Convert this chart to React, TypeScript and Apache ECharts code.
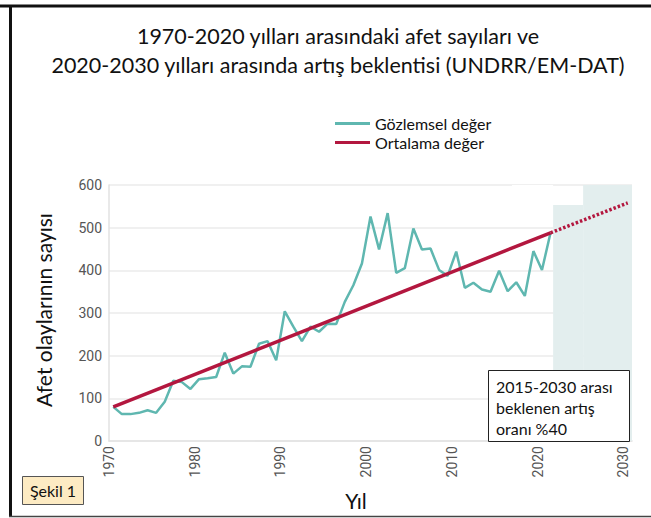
import React, { useEffect, useRef } from "react";
import * as echarts from "echarts";

// ---- data ----
const firstYear = 1970;
const lastAxisYear = 2030;
const years: string[] = Array.from({ length: lastAxisYear - firstYear + 1 }, (_, i) => String(firstYear + i));

// observed disaster counts 1970-2021
const observed: number[] = [
  80, 63, 63, 66, 72, 66, 92, 141, 138, 122,
  145, 147, 150, 207, 158, 175, 174, 228, 234, 189,
  304, 268, 234, 268, 256, 275, 274, 326, 365, 416,
  526, 449, 534, 394, 405, 498, 449, 451, 401, 387,
  444, 359, 371, 355, 350, 399, 351, 372, 340, 445,
  401, 488,
];

// average (trend) line and its projection
const trendYears: string[] = ["1970", "2021"];
const trendValues: number[] = [80, 488];
const projectionYears: string[] = ["2021", "2030"];
const projectionValues: number[] = [488, 558];

// expected-increase shaded bands (year from, year to, top value)
const shadeFrom: number[] = [2021.8, 2025.3];
const shadeTo: number[] = [2025.3, 2031];
const shadeTop: number[] = [553, 600];

const xTicks: number[] = [1970, 1980, 1990, 2000, 2010, 2020, 2030];
const yMax = 600;
const yStep = 100;

const titleLines: string[] = [
  "1970-2020 yılları arasındaki afet sayıları ve",
  "2020-2030 yılları arasında artış beklentisi (UNDRR/EM-DAT)",
];
const legendNames: string[] = ["Gözlemsel değer", "Ortalama değer"];
const noteLines: string[] = ["2015-2030 arası", "beklenen artış", "oranı %40"];

const TEAL = "#5fb7b0";
const RED = "#b3173f";
const FONT = "Lato, 'Open Sans', sans-serif";

export default function App() {
  const ref = useRef<HTMLDivElement>(null);
  useEffect(() => {
    if (!ref.current) return;
    const chart = echarts.init(ref.current, undefined, { renderer: "svg" });
    const observedData = observed.map((v, i) => [years[i], v]);
    const trendData = trendYears.map((y, i) => [y, trendValues[i]]);
    const projData = projectionYears.map((y, i) => [y, projectionValues[i]]);
    const shadeAreas = shadeFrom.map((f, i) => [
      { xAxis: f, yAxis: 0 },
      { xAxis: shadeTo[i], yAxis: shadeTop[i] },
    ]);

    chart.setOption({
      animation: false,
      backgroundColor: "#ffffff",
      grid: { left: 109, right: 19, top: 185, height: 256, containLabel: false },
      legend: {
        data: legendNames.map((n) => ({ name: n, icon: "rect" })),
        orient: "vertical",
        left: 330,
        top: 110,
        itemWidth: 35,
        itemHeight: 3,
        itemGap: 2,
        textStyle: { fontFamily: FONT, fontSize: 16, lineHeight: 17, color: "#111" },
        selectedMode: false,
      },
      xAxis: [
        { type: "category", data: years, boundaryGap: true, show: false, gridIndex: 0 },
        {
          type: "value",
          min: firstYear,
          max: shadeTo[shadeTo.length - 1],
          position: "bottom",
          gridIndex: 0,
          axisLine: { show: true, lineStyle: { color: "#e2e2e2", width: 1.5 } },
          axisTick: { show: false },
          splitLine: { show: false },
          axisLabel: {
            customValues: xTicks,
            rotate: 90,
            margin: 5,
            color: "#555",
            fontSize: 14,
            fontFamily: "Roboto, sans-serif",
            formatter: (v: number) => String(v),
          },
        },
      ],
      yAxis: {
        type: "value",
        min: 0,
        max: yMax,
        interval: yStep,
        axisLine: { show: true, lineStyle: { color: "#e2e2e2", width: 1.5 } },
        axisTick: { show: false },
        axisLabel: { color: "#555", fontSize: 14, margin: 7, fontFamily: "Roboto, sans-serif" },
        splitLine: { lineStyle: { color: "#ebebeb", width: 1.5 } },
      },
      series: [
        {
          name: "shade",
          type: "line",
          xAxisIndex: 1,
          data: [],
          z: -1,
          silent: true,
          markArea: {
            silent: true,
            itemStyle: { color: "#e3eeee" },
            data: shadeAreas,
          },
        },
        {
          name: "cover",
          type: "line",
          xAxisIndex: 1,
          data: [],
          z: 1,
          silent: true,
          markArea: {
            silent: true,
            itemStyle: { color: "#ffffff" },
            data: [[{ xAxis: 2017, yAxis: yMax - 4 }, { xAxis: shadeFrom[0], yAxis: yMax + 4 }]],
          },
        },
        {
          name: legendNames[0],
          type: "line",
          xAxisIndex: 0,
          data: observedData,
          showSymbol: false,
          symbol: "none",
          lineStyle: { color: TEAL, width: 2.5 },
          itemStyle: { color: TEAL },
          z: 3,
        },
        {
          name: legendNames[1],
          type: "line",
          xAxisIndex: 0,
          data: trendData,
          showSymbol: false,
          symbol: "none",
          lineStyle: { color: RED, width: 3.5 },
          itemStyle: { color: RED },
          z: 4,
        },
        {
          name: "Projeksiyon",
          type: "line",
          xAxisIndex: 0,
          data: projData,
          showSymbol: false,
          symbol: "none",
          lineStyle: { color: RED, width: 3.5, type: [2.5, 2] },
          itemStyle: { color: RED },
          z: 4,
        },
      ],
      graphic: [
        // frame
        { type: "line", shape: { x1: 0, y1: 6, x2: 651, y2: 6 }, style: { stroke: "#111", lineWidth: 3 }, z: 10 },
        { type: "line", shape: { x1: 10.5, y1: 5, x2: 10.5, y2: 517 }, style: { stroke: "#111", lineWidth: 3 }, z: 10 },
        { type: "line", shape: { x1: 9, y1: 516.5, x2: 651, y2: 516.5 }, style: { stroke: "#444", lineWidth: 1.5 }, z: 10 },
        // title
        {
          type: "text", x: 338, y: 36,
          style: { text: titleLines[0], fill: "#111", font: `21.5px ${FONT}`, textAlign: "center", textVerticalAlign: "middle" },
        },
        {
          type: "text", x: 338, y: 65,
          style: { text: titleLines[1], fill: "#111", font: `21.5px ${FONT}`, textAlign: "center", textVerticalAlign: "middle" },
        },
        // axis names
        {
          type: "text", x: 43, y: 310, rotation: Math.PI / 2,
          style: { text: "Afet olaylarının sayısı", fill: "#111", font: `21px ${FONT}`, textAlign: "center", textVerticalAlign: "middle" },
        },
        {
          type: "text", x: 356, y: 500,
          style: { text: "Yıl", fill: "#111", font: `21px ${FONT}`, textAlign: "center", textVerticalAlign: "middle" },
        },
        // note box
        {
          type: "rect", shape: { x: 488.5, y: 370.5, width: 141, height: 71 },
          style: { fill: "#ffffff", stroke: "#222", lineWidth: 1 }, z: 20,
        },
        ...noteLines.map((t, i) => ({
          type: "text", x: 496, y: 386 + i * 21, z: 21,
          style: { text: t, fill: "#111", font: `16px ${FONT}`, textAlign: "left", textVerticalAlign: "middle" },
        })),
        // figure label
        {
          type: "rect", shape: { x: 22.5, y: 476.5, width: 61, height: 28 },
          style: { fill: "#fdebc3", stroke: "#555", lineWidth: 1 }, z: 20,
        },
        {
          type: "text", x: 53, y: 490.5, z: 21,
          style: { text: "Şekil 1", fill: "#111", font: `16px ${FONT}`, textAlign: "center", textVerticalAlign: "middle" },
        },
      ],
    });
    return () => chart.dispose();
  }, []);
  return (
    <div
      ref={ref}
      style={{ position: "fixed", left: 0, top: 0, width: 651, height: 518, background: "#fff" }}
    />
  );
}
